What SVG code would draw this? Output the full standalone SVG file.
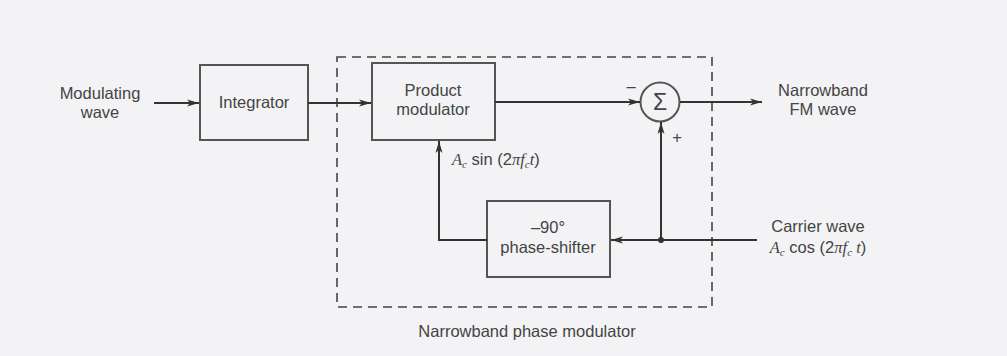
<svg xmlns="http://www.w3.org/2000/svg" width="1007" height="356" viewBox="0 0 1007 356">
<defs>
<marker id="ah" markerWidth="12" markerHeight="8" refX="12" refY="4" orient="auto" markerUnits="userSpaceOnUse">
<path d="M0,0.5 L12,4 L0,7.5 L3,4 Z" fill="#333"/>
</marker>
</defs>
<style>
.box{fill:none;stroke:#555;stroke-width:2}
.ln{fill:none;stroke:#333;stroke-width:2}
.t{font-family:"Liberation Sans",Arial,sans-serif;font-size:16.5px;fill:#444;text-anchor:middle}
.i{font-family:"Liberation Serif","Times New Roman",serif;font-style:italic}
</style>
<rect width="1007" height="356" fill="#f3f3f5"/>
<g id="boundary">
<rect x="337" y="57" width="375" height="250" fill="none" stroke="#444" stroke-width="1.6" stroke-dasharray="9,6"/>
<text class="t" x="527" y="337">Narrowband phase modulator</text>
</g>
<g id="input">
<text class="t" x="100" y="99">Modulating</text>
<text class="t" x="100" y="118">wave</text>
</g>
<g id="integrator">
<rect class="box" x="200" y="65" width="108" height="75"/>
<text class="t" x="254" y="108">Integrator</text>
</g>
<g id="product">
<rect class="box" x="372" y="63" width="123" height="77"/>
<text class="t" x="433" y="96">Product</text>
<text class="t" x="433" y="115">modulator</text>
<text class="t" x="452" y="165" style="text-anchor:start"><tspan class="i">A</tspan><tspan class="i" font-size="11" dy="3">c</tspan><tspan dy="-3"> sin (2</tspan><tspan class="i">πf</tspan><tspan class="i" font-size="11" dy="3">c</tspan><tspan class="i" dy="-3">t</tspan>)</text>
</g>
<g id="sum">
<circle cx="660" cy="102" r="19.5" fill="none" stroke="#555" stroke-width="2"/>
<text class="t" x="660" y="110" style="font-size:23px">Σ</text>
<text class="t" x="631" y="92">–</text>
<text class="t" x="677" y="143">+</text>
</g>
<g id="output">
<text class="t" x="823" y="96">Narrowband</text>
<text class="t" x="823" y="115">FM wave</text>
</g>
<g id="shifter">
<rect class="box" x="487" y="201" width="123" height="76"/>
<text class="t" x="548" y="233">–90°</text>
<text class="t" x="548" y="253">phase-shifter</text>
</g>
<g id="carrier">
<text class="t" x="818" y="232">Carrier wave</text>
<text class="t" x="818" y="253"><tspan class="i">A</tspan><tspan class="i" font-size="11" dy="3">c</tspan><tspan dy="-3"> cos (2</tspan><tspan class="i">πf</tspan><tspan class="i" font-size="11" dy="3">c</tspan><tspan class="i" dy="-3"> t</tspan>)</text>
</g>
<g id="connectors">
<line class="ln" x1="154" y1="103" x2="199" y2="103" marker-end="url(#ah)"/>
<line class="ln" x1="308" y1="103" x2="371" y2="103" marker-end="url(#ah)"/>
<line class="ln" x1="495" y1="102" x2="640" y2="102" marker-end="url(#ah)"/>
<line class="ln" x1="680" y1="102" x2="762" y2="102" marker-end="url(#ah)"/>
<line class="ln" x1="757" y1="240" x2="611" y2="240" marker-end="url(#ah)"/>
<polyline class="ln" points="661,240 661,122" marker-end="url(#ah)"/>
<circle cx="661" cy="240" r="3" fill="#333"/>
<polyline class="ln" points="487,240 439,240 439,141" marker-end="url(#ah)"/>
</g>
</svg>
